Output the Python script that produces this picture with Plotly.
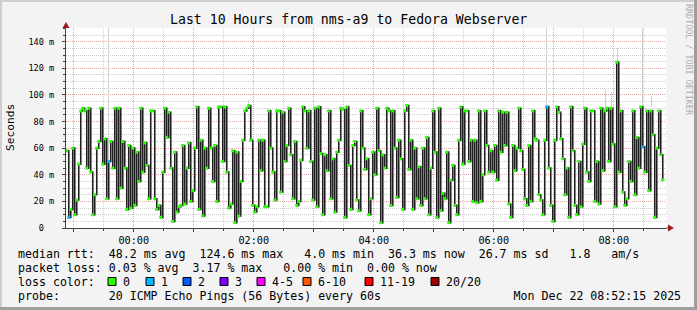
import pandas as pd
import plotly.graph_objects as go

# ---------------- data ----------------
title_text = "Last 10 Hours from nms-a9 to Fedora Webserver"
window_start = "2025-12-21 22:52:15"
window_end = "2025-12-22 08:52:15"
first_sample = "2025-12-21 22:53:00"
sample_step_min = 2

# median RTT in ms, one value per 2 minutes
rtt_2253_0031 = [58, 8, 14, 60, 10, 21, 48, 88, 90, 88, 45, 90, 42, 10, 25, 60, 65, 90, 48, 67,
                 22, 50, 65, 45, 90, 22, 90, 30, 65, 45, 14, 62, 15, 60, 17, 57, 35, 90, 42, 64,
                 47, 22, 88, 88, 22, 14, 17, 8, 42, 90]
rtt_0033_0211 = [68, 87, 45, 5, 57, 12, 16, 17, 62, 18, 45, 64, 20, 28, 60, 91, 14, 66, 9, 60,
                 45, 90, 60, 35, 62, 20, 91, 91, 50, 91, 42, 15, 18, 58, 4, 57, 9, 35, 66, 88,
                 90, 92, 66, 17, 12, 16, 66, 43, 66, 16]
rtt_0213_0351 = [16, 88, 60, 42, 21, 88, 88, 27, 87, 50, 62, 90, 55, 22, 65, 17, 20, 51, 91, 88,
                 60, 88, 50, 21, 90, 16, 91, 56, 10, 55, 43, 88, 22, 52, 12, 57, 66, 90, 89, 8,
                 91, 47, 14, 62, 65, 21, 13, 88, 60, 44]
rtt_0353_0531 = [52, 10, 22, 57, 40, 90, 58, 4, 55, 45, 90, 88, 17, 88, 60, 23, 66, 52, 14, 88,
                 92, 44, 66, 14, 60, 22, 46, 17, 60, 22, 68, 10, 45, 88, 57, 8, 90, 13, 26, 22,
                 57, 4, 36, 47, 17, 10, 66, 91, 48, 88]
rtt_0533_0711 = [88, 50, 66, 20, 66, 19, 88, 20, 40, 88, 62, 42, 58, 42, 62, 36, 88, 57, 87, 62,
                 87, 18, 8, 62, 43, 60, 90, 58, 44, 22, 17, 62, 20, 88, 67, 66, 25, 21, 10, 66,
                 91, 45, 17, 5, 66, 91, 87, 67, 52, 25]
rtt_0713_0849 = [45, 8, 91, 58, 17, 10, 50, 16, 63, 90, 42, 35, 88, 88, 20, 50, 18, 90, 43, 88,
                 90, 50, 90, 63, 16, 124.6, 42, 88, 27, 17, 22, 50, 35, 88, 25, 68, 45, 91, 61, 42,
                 88, 28, 88, 70, 8, 60, 88, 55, 36.3]

# samples with lost pings (count out of 20)
loss_times = ["2025-12-21 22:55", "2025-12-21 23:35", "2025-12-22 06:53", "2025-12-22 08:29"]
loss_counts = [1, 1, 1, 1]

# smoke: spread of the slowest pings
smoke_times = ["2025-12-21 23:35", "2025-12-22 01:55", "2025-12-22 06:53", "2025-12-22 07:52",
               "2025-12-22 07:58", "2025-12-22 08:04", "2025-12-22 08:29", "2025-12-22 08:38"]
smoke_low = [50, 91, 91, 90, 90, 125, 92, 91]
smoke_high = [170, 96, 170, 104, 102, 135, 170, 99]

y_tick_vals = [0, 20, 40, 60, 80, 100, 120, 140]
y_tick_text = ["0\u00a0\u00a0", "20 m", "40 m", "60 m", "80 m", "100 m", "120 m", "140 m"]
hour_ticks = ["2025-12-21 23:00", "2025-12-22 00:00", "2025-12-22 01:00", "2025-12-22 02:00",
              "2025-12-22 03:00", "2025-12-22 04:00", "2025-12-22 05:00", "2025-12-22 06:00",
              "2025-12-22 07:00", "2025-12-22 08:00"]
hour_labels = ["", "00:00", "", "02:00", "", "04:00", "", "06:00", "", "08:00"]

loss_bins = ["0", "1", "2", "3", "4-5", "6-10", "11-19", "20/20"]
loss_colors = ["#26ff00", "#00b8ff", "#0059ff", "#7e00ff", "#ff00ff", "#ff5500", "#ff0000", "#a10000"]

legend_line1 = "median rtt:  48.2 ms avg  124.6 ms max   4.0 ms min  36.3 ms now  26.7 ms sd   1.8   am/s"
legend_line2 = "packet loss: 0.03 % avg  3.17 % max   0.00 % min  0.00 % now"
legend_line3 = "loss color:"
legend_line4 = "probe:       20 ICMP Echo Pings (56 Bytes) every 60s                   Mon Dec 22 08:52:15 2025"
watermark = "RRDTOOL / TOBI OETIKER"
y_title = "Seconds"

# ---------------- build ----------------
rtt = rtt_2253_0031 + rtt_0033_0211 + rtt_0213_0351 + rtt_0353_0531 + rtt_0533_0711 + rtt_0713_0849
times = pd.date_range(first_sample, periods=len(rtt), freq=f"{sample_step_min}min")

loss_map = {pd.Timestamp(t): c for t, c in zip(loss_times, loss_counts)}


def loss_bin(c):
    if c <= 3:
        return c
    if c <= 5:
        return 4
    if c <= 10:
        return 5
    if c <= 19:
        return 6
    return 7


marker_colors = [loss_colors[loss_bin(loss_map.get(t, 0))] for t in times]

W, H = 697, 310
L, R, T, B = 66, 31, 28, 82
PW, PH = W - L - R, H - T - B


def px(x):
    return (x - L) / PW


def py(y):
    return (H - B - y) / PH


def nb(s):
    return s.replace(" ", "\u00a0")


MONO = "DejaVu Sans Mono"

fig = go.Figure()

fig.add_trace(go.Bar(
    x=pd.to_datetime(smoke_times), y=[h - l for h, l in zip(smoke_high, smoke_low)], base=smoke_low,
    width=60000, marker=dict(color="#cfcfcf", line=dict(width=0)), hoverinfo="skip", showlegend=False,
))

fig.add_trace(go.Scatter(
    x=times, y=rtt, mode="lines+markers", line=dict(color="#202020", width=1.6, shape="hv"),
    marker=dict(symbol="square", size=3, color=marker_colors, line=dict(width=0)),
    hoverinfo="skip", showlegend=False,
))

grid_major = "rgba(225,150,150,0.85)"
grid_minor = "rgba(200,200,200,0.9)"

minor_x = [str(pd.Timestamp(t) + pd.Timedelta(minutes=30)) for t in ["2025-12-21 22:00"] + hour_ticks]
minor_y = [v for v in range(5, 151, 5) if v % 20 != 0]

fig.update_xaxes(
    type="date", range=[window_start, window_end], tickmode="array", tickvals=hour_ticks,
    ticktext=hour_labels, showgrid=True, gridcolor=grid_major, griddash="1px,1px", gridwidth=1,
    ticks="outside", ticklen=3, tickcolor="#404040", showline=True, linecolor="#404040",
    linewidth=1, zeroline=False, tickfont=dict(family=MONO, size=10.2, color="#000000"),
    minor=dict(tickvals=minor_x, showgrid=True, gridcolor=grid_minor, griddash="1px,1px",
               ticks="outside", ticklen=2, tickcolor="#404040"),
    fixedrange=True,
)
fig.update_yaxes(
    range=[0, 150.3], tickmode="array", tickvals=y_tick_vals, ticktext=y_tick_text,
    showgrid=True, gridcolor=grid_major, griddash="1px,1px", gridwidth=1, ticks="outside",
    ticklen=3, tickcolor="#404040", showline=True, linecolor="#404040", linewidth=1,
    zeroline=False, tickfont=dict(family=MONO, size=8.6, color="#000000"), ticklabelstandoff=6,
    minor=dict(tickvals=minor_y, showgrid=True, gridcolor=grid_minor, griddash="1px,1px",
               ticks="outside", ticklen=2, tickcolor="#404040"),
    fixedrange=True,
)

shapes = []
# frame shading
shapes.append(dict(type="rect", xref="paper", yref="paper", x0=px(0), x1=px(W), y0=py(0), y1=py(2),
                   fillcolor="#cfcfcf", line=dict(width=0), layer="below"))
shapes.append(dict(type="rect", xref="paper", yref="paper", x0=px(0), x1=px(2), y0=py(0), y1=py(H),
                   fillcolor="#cfcfcf", line=dict(width=0), layer="below"))
shapes.append(dict(type="rect", xref="paper", yref="paper", x0=px(0), x1=px(W), y0=py(H - 3), y1=py(H),
                   fillcolor="#9e9e9e", line=dict(width=0), layer="below"))
shapes.append(dict(type="rect", xref="paper", yref="paper", x0=px(W - 3), x1=px(W), y0=py(0), y1=py(H),
                   fillcolor="#9e9e9e", line=dict(width=0), layer="below"))
# axis extensions and arrows
shapes.append(dict(type="line", xref="paper", yref="paper", x0=1, x1=px(669), y0=0, y1=0,
                   line=dict(color="#404040", width=1)))
shapes.append(dict(type="path", xref="paper", yref="paper", xsizemode="pixel", ysizemode="pixel",
                   xanchor=0, yanchor=1, path="M -3.5 0 L 3.5 0 L 0 6 Z",
                   fillcolor="#9b1c1c", line=dict(width=0)))
shapes.append(dict(type="path", xref="paper", yref="paper", xsizemode="pixel", ysizemode="pixel",
                   xanchor=px(668), yanchor=0, path="M 0 -3.5 L 0 3.5 L 6 0 Z",
                   fillcolor="#9b1c1c", line=dict(width=0)))

annotations = []
annotations.append(dict(text=nb(title_text), x=px(W / 2), y=py(19), xref="paper", yref="paper",
                        showarrow=False, xanchor="center", yanchor="middle",
                        font=dict(family=MONO, size=13.2, color="#000000")))
annotations.append(dict(text=y_title, x=px(10), y=py(128), xref="paper", yref="paper", showarrow=False,
                        textangle=-90, xanchor="center", yanchor="middle",
                        font=dict(family=MONO, size=11.2, color="#000000")))
annotations.append(dict(text=nb(watermark), x=px(689), y=py(60), xref="paper", yref="paper",
                        showarrow=False, textangle=90, xanchor="center", yanchor="middle",
                        font=dict(family=MONO, size=8.4, color="#ababab")))

legend_rows = [(legend_line1, 254), (legend_line2, 268), (legend_line3, 281.5), (legend_line4, 296)]
for txt, yy in legend_rows:
    annotations.append(dict(text=nb(txt), x=px(16), y=py(yy), xref="paper", yref="paper",
                            showarrow=False, xanchor="left", yanchor="middle",
                            font=dict(family=MONO, size=11.6, color="#000000")))

square_left = [108, 146, 183, 220, 257, 303, 365, 431]
for lbl, col, sx in zip(loss_bins, loss_colors, square_left):
    shapes.append(dict(type="rect", xref="paper", yref="paper", x0=px(sx), x1=px(sx + 8),
                       y0=py(285.5), y1=py(277.5), fillcolor=col, line=dict(color="#000000", width=1)))
    annotations.append(dict(text=nb(lbl), x=px(sx + 13), y=py(281.5), xref="paper", yref="paper",
                            showarrow=False, xanchor="left", yanchor="middle",
                            font=dict(family=MONO, size=11.6, color="#000000")))

fig.update_layout(
    width=W, height=H, margin=dict(l=L, r=R, t=T, b=B, pad=0),
    paper_bgcolor="#f3f3f3", plot_bgcolor="#ffffff", showlegend=False,
    bargap=0, barmode="overlay", hovermode=False,
    shapes=shapes, annotations=annotations,
)

fig.write_html("out.html", config=dict(displayModeBar=False, staticPlot=True))
